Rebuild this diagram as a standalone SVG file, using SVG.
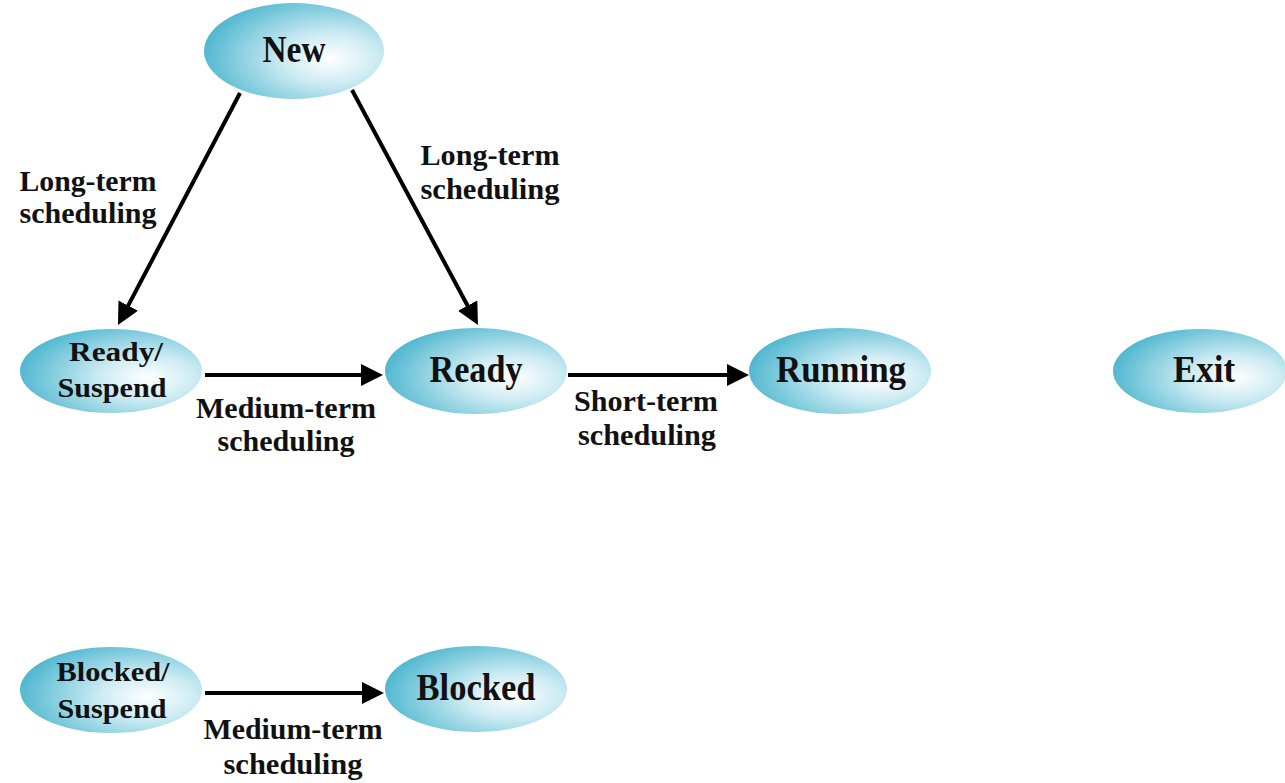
<svg xmlns="http://www.w3.org/2000/svg" width="1285" height="783" viewBox="0 0 1285 783">
<style>
.node ellipse{fill:url(#g);}
.nt{font-family:"Liberation Serif","Times New Roman",serif;font-weight:bold;fill:#111;text-anchor:middle;}
.big{font-size:38px;}
.mid{font-size:28px;}
.lbl{font-family:"Liberation Serif","Times New Roman",serif;font-weight:bold;font-size:29px;fill:#111;text-anchor:middle;}
.edge{stroke:#000;stroke-width:4;fill:none;marker-end:url(#ah);}
</style>
<defs>
<radialGradient id="g" cx="0.7" cy="0.58" r="0.75" fx="0.7" fy="0.58">
<stop offset="0" stop-color="#ffffff"/>
<stop offset="0.35" stop-color="#cdebf3"/>
<stop offset="1" stop-color="#45b3cd"/>
</radialGradient>
<marker id="ah" markerUnits="userSpaceOnUse" markerWidth="24" markerHeight="24" refX="14" refY="11" orient="auto">
<path d="M0,0 L22,11 L0,22 z" fill="#000"/>
</marker>
</defs>
<rect width="1285" height="783" fill="#fff"/>
<g id="connectors">
<line class="edge" x1="240" y1="93" x2="121.7" y2="317.9"/>
<line class="edge" x1="352" y1="90" x2="474.2" y2="318"/>
<line class="edge" x1="205" y1="375" x2="375" y2="375"/>
<line class="edge" x1="568" y1="375" x2="741" y2="375"/>
<line class="edge" x1="205" y1="693" x2="376" y2="693"/>
</g>
<g id="labels">
<text class="lbl" x="88" y="191" textLength="137" lengthAdjust="spacingAndGlyphs">Long-term</text>
<text class="lbl" x="88" y="223" textLength="137" lengthAdjust="spacingAndGlyphs">scheduling</text>
<text class="lbl" x="490" y="165" textLength="139" lengthAdjust="spacingAndGlyphs">Long-term</text>
<text class="lbl" x="490" y="199" textLength="139" lengthAdjust="spacingAndGlyphs">scheduling</text>
<text class="lbl" x="286" y="418" textLength="180" lengthAdjust="spacingAndGlyphs">Medium-term</text>
<text class="lbl" x="286" y="451" textLength="137" lengthAdjust="spacingAndGlyphs">scheduling</text>
<text class="lbl" x="646" y="411" textLength="144" lengthAdjust="spacingAndGlyphs">Short-term</text>
<text class="lbl" x="647" y="445" textLength="138" lengthAdjust="spacingAndGlyphs">scheduling</text>
<text class="lbl" x="293" y="739" textLength="179" lengthAdjust="spacingAndGlyphs">Medium-term</text>
<text class="lbl" x="293" y="774" textLength="139" lengthAdjust="spacingAndGlyphs">scheduling</text>
</g>
<g id="new" class="node">
<ellipse cx="294" cy="51" rx="90" ry="48"/>
<text class="nt big" x="294" y="62" textLength="63" lengthAdjust="spacingAndGlyphs">New</text>
</g>
<g id="ready-suspend" class="node">
<ellipse cx="111" cy="371" rx="91" ry="42"/>
<text class="nt mid" x="116" y="361" textLength="94" lengthAdjust="spacingAndGlyphs">Ready/</text>
<text class="nt mid" x="112" y="397" textLength="109" lengthAdjust="spacingAndGlyphs">Suspend</text>
</g>
<g id="ready" class="node">
<ellipse cx="476" cy="371" rx="91" ry="43"/>
<text class="nt big" x="476" y="382" textLength="93" lengthAdjust="spacingAndGlyphs">Ready</text>
</g>
<g id="running" class="node">
<ellipse cx="840" cy="371" rx="91" ry="43"/>
<text class="nt big" x="841" y="382" textLength="130" lengthAdjust="spacingAndGlyphs">Running</text>
</g>
<g id="exit" class="node">
<ellipse cx="1200" cy="371" rx="87" ry="42"/>
<text class="nt big" x="1204" y="382" textLength="62" lengthAdjust="spacingAndGlyphs">Exit</text>
</g>
<g id="blocked-suspend" class="node">
<ellipse cx="111" cy="690" rx="91" ry="43"/>
<text class="nt mid" x="113" y="681" textLength="113" lengthAdjust="spacingAndGlyphs">Blocked/</text>
<text class="nt mid" x="112" y="718" textLength="109" lengthAdjust="spacingAndGlyphs">Suspend</text>
</g>
<g id="blocked" class="node">
<ellipse cx="476" cy="689" rx="91" ry="43"/>
<text class="nt big" x="476" y="700" textLength="119" lengthAdjust="spacingAndGlyphs">Blocked</text>
</g>
</svg>
